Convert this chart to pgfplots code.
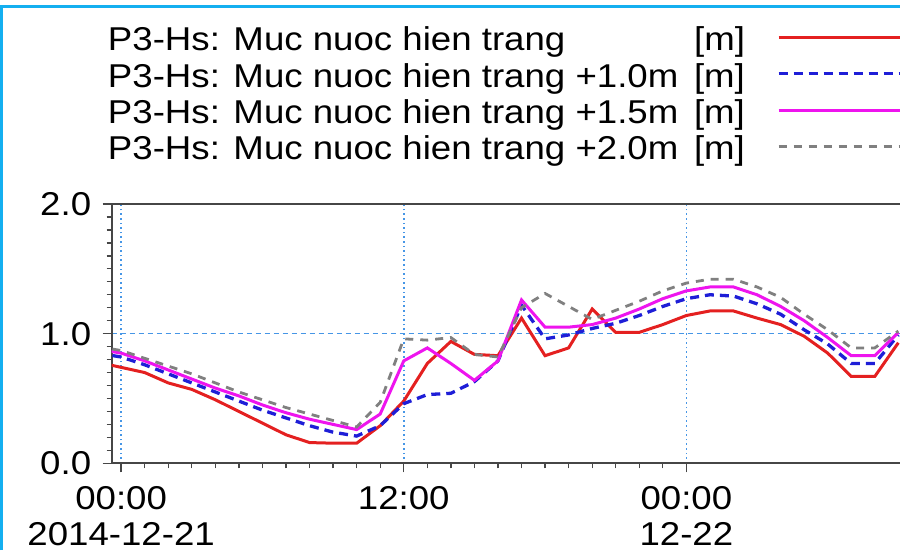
\documentclass[border=0pt]{standalone}
\usepackage{fontspec}
\setmainfont{Liberation Sans}[FakeStretch=1.11]
\usepackage{pgfplots}
\pgfplotsset{compat=1.18}
\usepackage{pgfplotstable}

\definecolor{cRed}{RGB}{228,32,32}
\definecolor{cBlue}{RGB}{30,30,215}
\definecolor{cMag}{RGB}{238,20,238}
\definecolor{cGray}{RGB}{128,128,128}
\definecolor{cGrid}{RGB}{70,150,230}
\definecolor{cAxis}{RGB}{70,70,70}
\definecolor{cFrame}{RGB}{20,175,240}

\pgfplotstableread{
h    red    blue   mag    gray
-1   0.78   0.85   0.88   0.90
0    0.74   0.82   0.85   0.87
1    0.70   0.76   0.79   0.81
2    0.62   0.69   0.72   0.75
3    0.57   0.62   0.65   0.69
4    0.49   0.55   0.58   0.62
5    0.40   0.48   0.52   0.55
6    0.31   0.41   0.45   0.49
7    0.22   0.35   0.39   0.43
8    0.16   0.29   0.34   0.38
9    0.155  0.24   0.30   0.33
10   0.155  0.21   0.26   0.28
11   0.29   0.29   0.38   0.47
12   0.48   0.46   0.79   0.96
13   0.77   0.53   0.89   0.95
14   0.94   0.54   0.77   0.97
15   0.84   0.63   0.64   0.84
16   0.83   0.79   0.79   0.82
17   1.12   1.22   1.26   1.20
18   0.83   0.96   1.05   1.31
19   0.89   0.99   1.05   1.21
20   1.19   1.04   1.07   1.11
21   1.01   1.08   1.12   1.18
22   1.01   1.14   1.19   1.25
23   1.07   1.21   1.27   1.33
24   1.14   1.27   1.33   1.39
25   1.175  1.30   1.36   1.42
26   1.175  1.29   1.36   1.42
27   1.12   1.23   1.30   1.36
28   1.07   1.15   1.21   1.28
29   0.98   1.03   1.10   1.15
30   0.85   0.92   0.97   1.03
31   0.67   0.77   0.83   0.89
32   0.67   0.77   0.83   0.89
33   0.93   0.99   1.01   1.02
}\datatab

\newcommand{\lentry}[2]{\makebox[669pt][l]{#1\hfill#2\hspace*{32pt}}}

\begin{document}
\begin{tikzpicture}[font=\fontsize{33}{39}\selectfont]
\path[use as bounding box] (0,0) rectangle (900pt,550pt);
\draw[cFrame, line width=3pt] (1.5pt,0pt) -- (1.5pt,543.5pt) -- (900pt,543.5pt);
\begin{axis}[
  at={(111.7pt,86.7pt)}, anchor=south west,
  scale only axis, width=788.3pt, height=259.3pt,
  xmin=-0.4, xmax=33.07, ymin=0, ymax=2,
  axis x line*=box, axis y line*=left,
  xtick pos=bottom, ytick pos=left,
  axis line style={cAxis, line width=2pt},
  xtick={0,12,24},
  xticklabels={{00:00\\2014-12-21},{12:00},{00:00\\12-22}},
  ytick={0,1,2},
  yticklabels={0.0,1.0,2.0},
  minor x tick num=11,
  minor y tick num=9,
  tick align=outside,
  major tick length=9pt,
  minor tick length=5pt,
  tick style={cAxis, line width=1.3pt},
  xticklabel style={align=center, yshift=-10.5pt, text depth=0pt, font=\fontsize{33}{36}\selectfont},
  yticklabel style={xshift=-8pt, font=\fontsize{33}{38}\selectfont},
  /pgf/number format/assume math mode=true,
  grid=major,
  x grid style={cGrid, line width=1.6pt, dash pattern=on 1.6pt off 3pt},
  y grid style={cGrid, line width=1.4pt, dash pattern=on 5pt off 4pt},
  legend plot pos=right,
  legend cell align=left,
  legend style={at={(-0.0047,1.6876)}, anchor=north west, draw=none, fill=none,
    inner sep=0pt, outer sep=0pt, row sep=0pt, column sep=0pt,
    font=\fontsize{33}{38}\selectfont,
    nodes={inner sep=0pt, text height=25pt, text depth=11.4pt}},
  legend image code/.code={\draw[#1] (0pt,6.6pt) -- (190pt,6.6pt);},
]
\addplot[cRed, line width=3pt] table[x=h, y=red] {\datatab};
\addlegendentry{\lentry{P3-Hs: Muc nuoc hien trang}{[m]}}
\addplot[cBlue, line width=3.3pt, dash pattern=on 9pt off 6pt] table[x=h, y=blue] {\datatab};
\addlegendentry{\lentry{P3-Hs: Muc nuoc hien trang +1.0m}{[m]}}
\addplot[cMag, line width=3pt] table[x=h, y=mag] {\datatab};
\addlegendentry{\lentry{P3-Hs: Muc nuoc hien trang +1.5m}{[m]}}
\addplot[cGray, line width=2.8pt, dash pattern=on 8pt off 7pt] table[x=h, y=gray] {\datatab};
\addlegendentry{\lentry{P3-Hs: Muc nuoc hien trang +2.0m}{[m]}}
\end{axis}
\end{tikzpicture}
\end{document}
